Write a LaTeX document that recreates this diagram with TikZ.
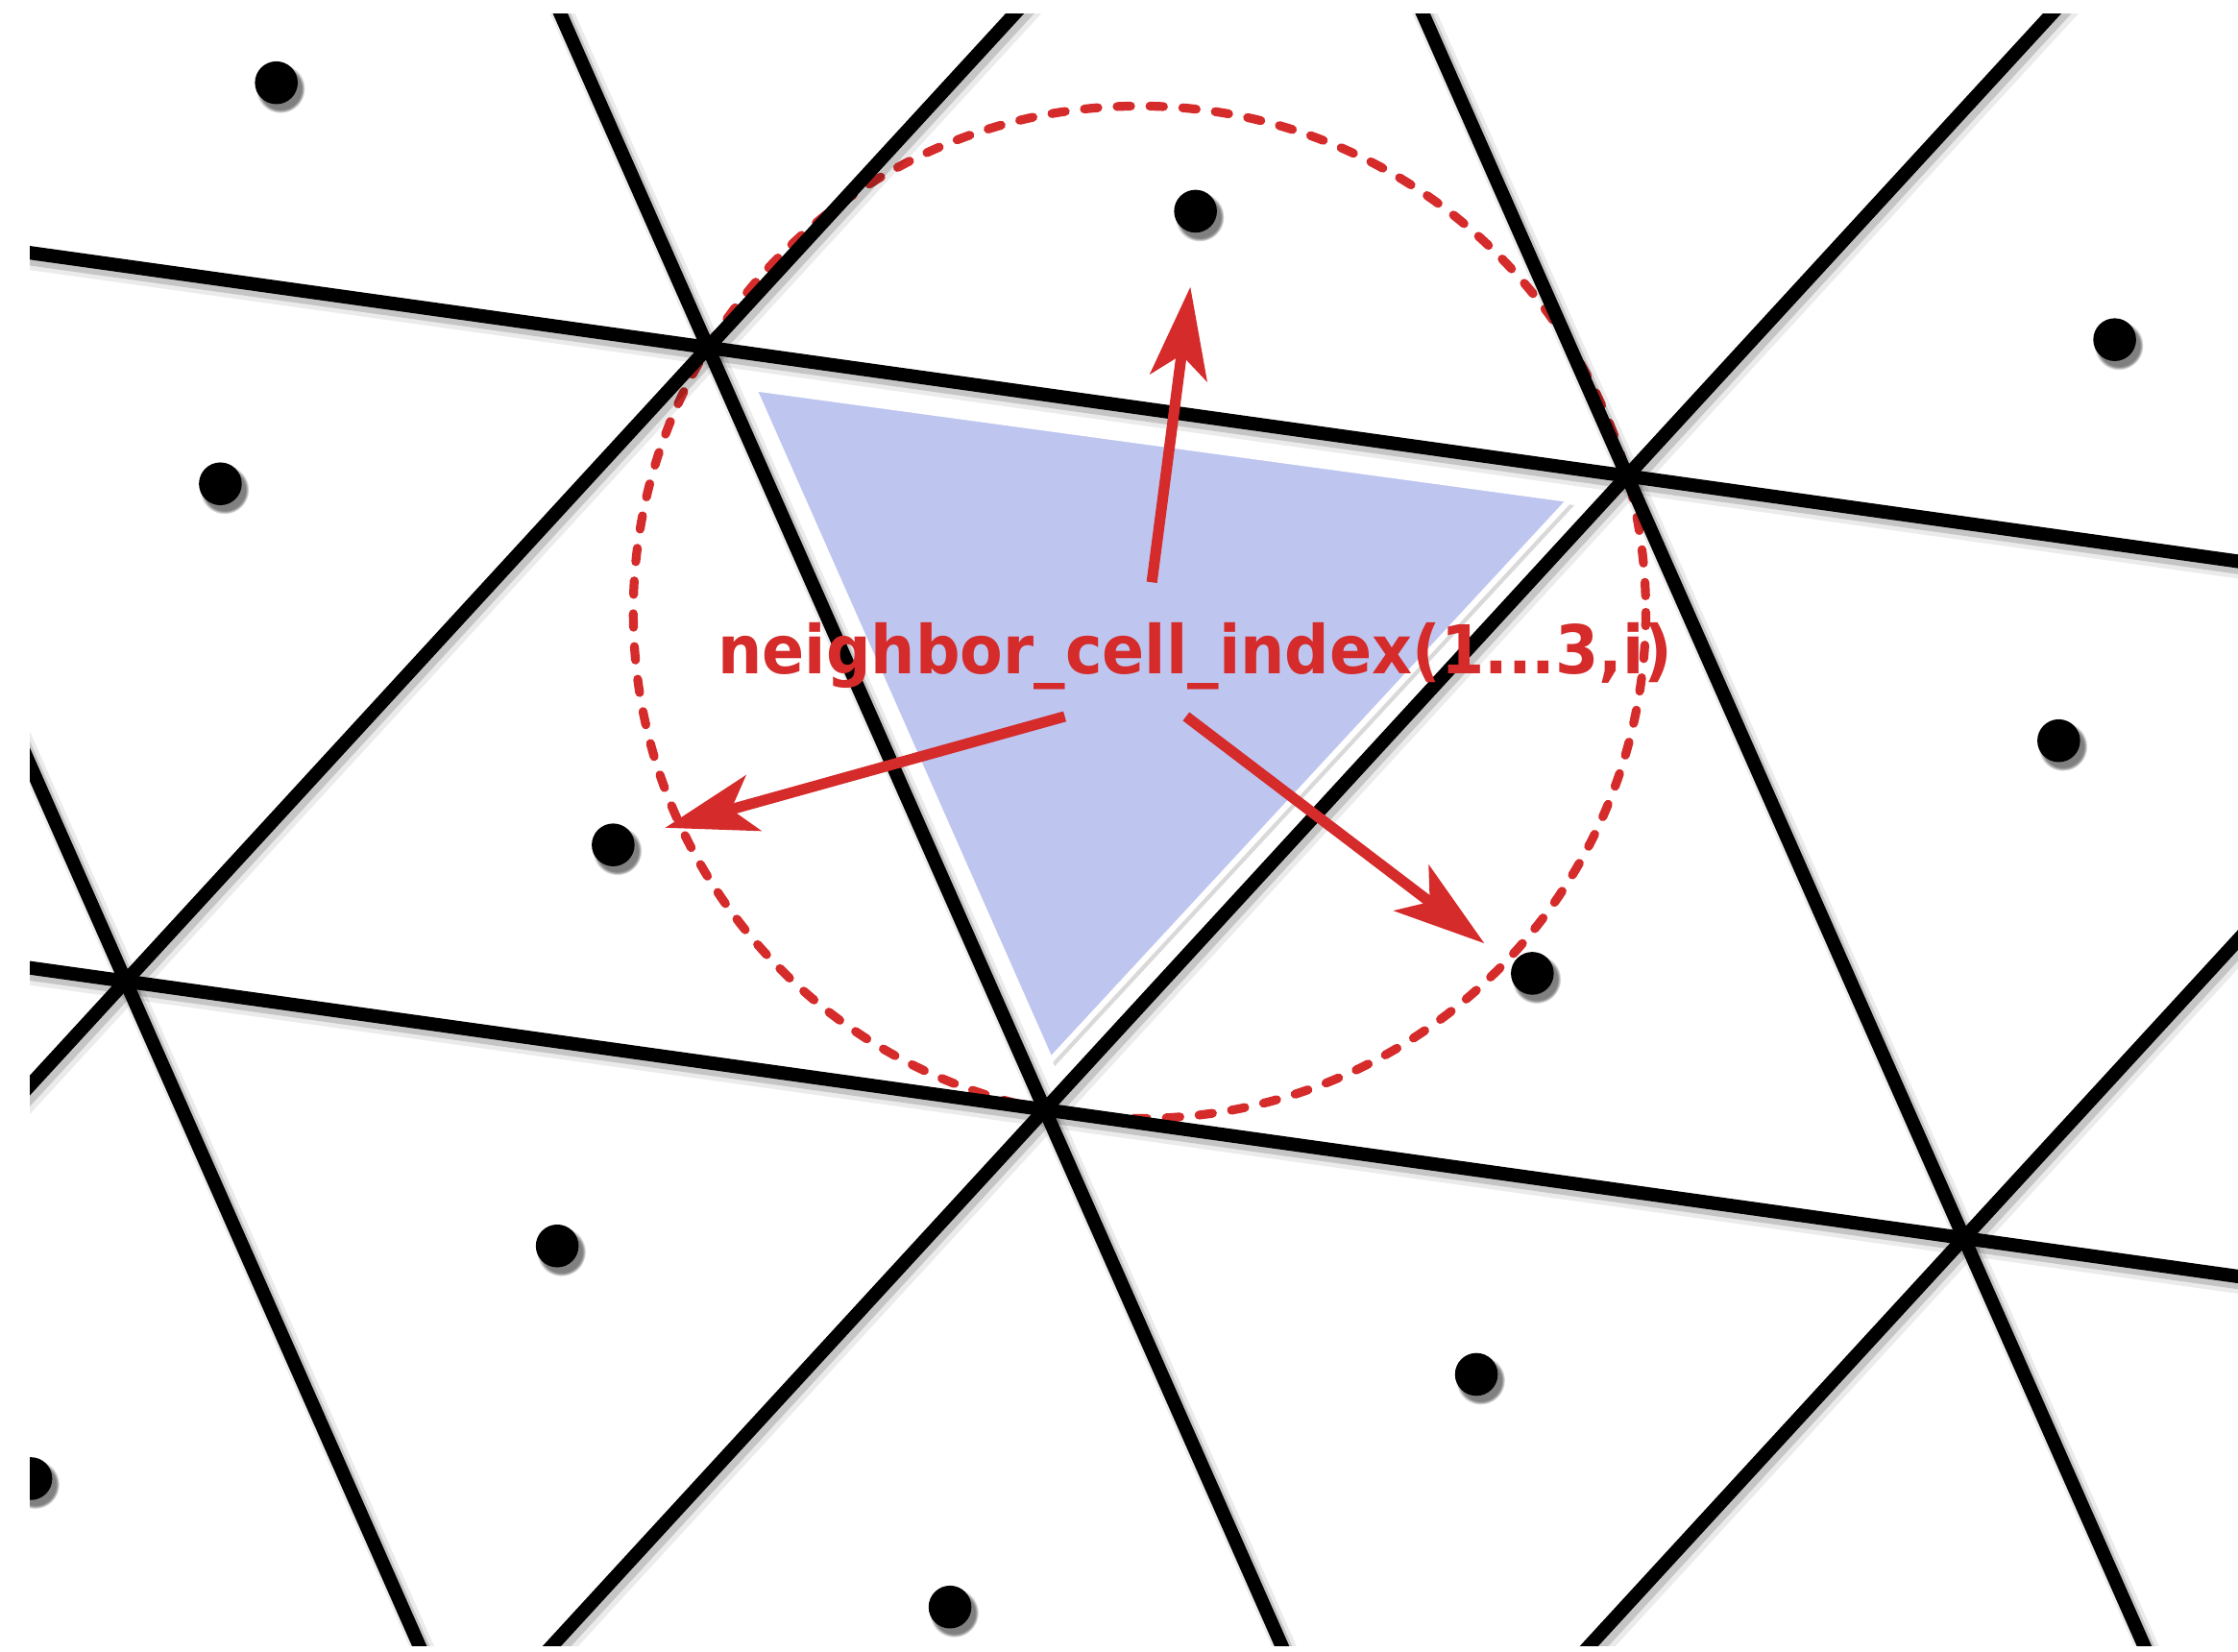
\documentclass[tikz,border=0pt]{standalone}
\usepackage{fontspec}
\newfontfamily\lblfont[FakeStretch=0.93]{DejaVu Sans}
\usepackage{xcolor}
\usepackage{tikz}
\usetikzlibrary{arrows.meta,shadows}

\definecolor{idxred}{RGB}{213,43,43}
\definecolor{cellblue}{RGB}{190,198,240}

\begin{document}
\begin{tikzpicture}[x=0.1mm,y=-0.1mm,
  edge/.style={line width=0.95mm,black,
    preaction={draw=black,line width=1.6mm,opacity=0.08,transform canvas={shift={(0.35mm,-0.45mm)}}},
    preaction={draw=black,line width=1.15mm,opacity=0.16,transform canvas={shift={(0.25mm,-0.35mm)}}}},
  centre/.style={circle,fill=black,inner sep=0pt,minimum size=3.0mm,
    circular drop shadow={shadow xshift=0.25mm,shadow yshift=-0.35mm,shadow scale=1.15}},
  cell/.style={fill=cellblue,draw=white,line width=0.4mm,
    drop shadow={shadow xshift=0.3mm,shadow yshift=-0.4mm,opacity=0.3}},
  ring/.style={draw=idxred,line width=0.62mm,line cap=round,dash pattern=on 0.95mm off 1.35mm},
  ptr/.style={-{Stealth[length=6.4mm,width=4.0mm,inset=1.6mm]},idxred,line width=0.75mm},
  lbl/.style={text=idxred,anchor=base,inner sep=0pt,
    font=\lblfont\bfseries\fontsize{13.4}{15}\selectfont}]
  \useasboundingbox (0,0) rectangle (1568,1157);
  \begin{scope}
    \clip (21,10) rectangle (1568,1153);
    \draw[ring] (798.4,429) circle (354.7);
    % mesh edges
    \foreach \j in {0,1}
      \draw[edge] ({496+236*\j-3*644},{243.5+534*\j-3*90}) -- ({496+236*\j+3*644},{243.5+534*\j+3*90});
    \foreach \i in {-1,0,1}
      \draw[edge] ({496+644*\i-3*236},{243.5+90*\i-3*534}) -- ({496+644*\i+3*236},{243.5+90*\i+3*534});
    \foreach \i in {0,1,2}
      \draw[edge] ({496+644*\i+3*408},{243.5+90*\i-3*444}) -- ({496+644*\i-3*408},{243.5+90*\i+3*444});
    % cell centres
    \foreach \i/\j in {-1/0,1/0,-1/1,0/1}
      \node[centre] (cu\i\j) at ({798.4+644*\i+236*\j},{429+90*\i+534*\j}) {};
    \foreach \i/\j in {0/-1,1/-1,2/-1,0/0,1/0,-1/1,0/1}
      \node[centre] (cd\i\j) at ({429.6+644*\i+236*\j},{592+90*\i+534*\j}) {};
  \end{scope}
  \path[cell] (528,272) -- (1100,350) -- (736,743) -- cycle;
  \node[lbl] (idx) at (837.5,472) {neighbor\_cell\_index(1...3,i)};
  \coordinate (nTail) at (807,408);
  \coordinate (nTip) at (834,201);
  \coordinate (wTail) at (746,502);
  \coordinate (wTip) at (466,580);
  \coordinate (eTail) at (831,502);
  \coordinate (eTip) at (1040,661);
  \draw[ptr] (nTail) -- (nTip);
  \draw[ptr] (wTail) -- (wTip);
  \draw[ptr] (eTail) -- (eTip);
\end{tikzpicture}
\end{document}
